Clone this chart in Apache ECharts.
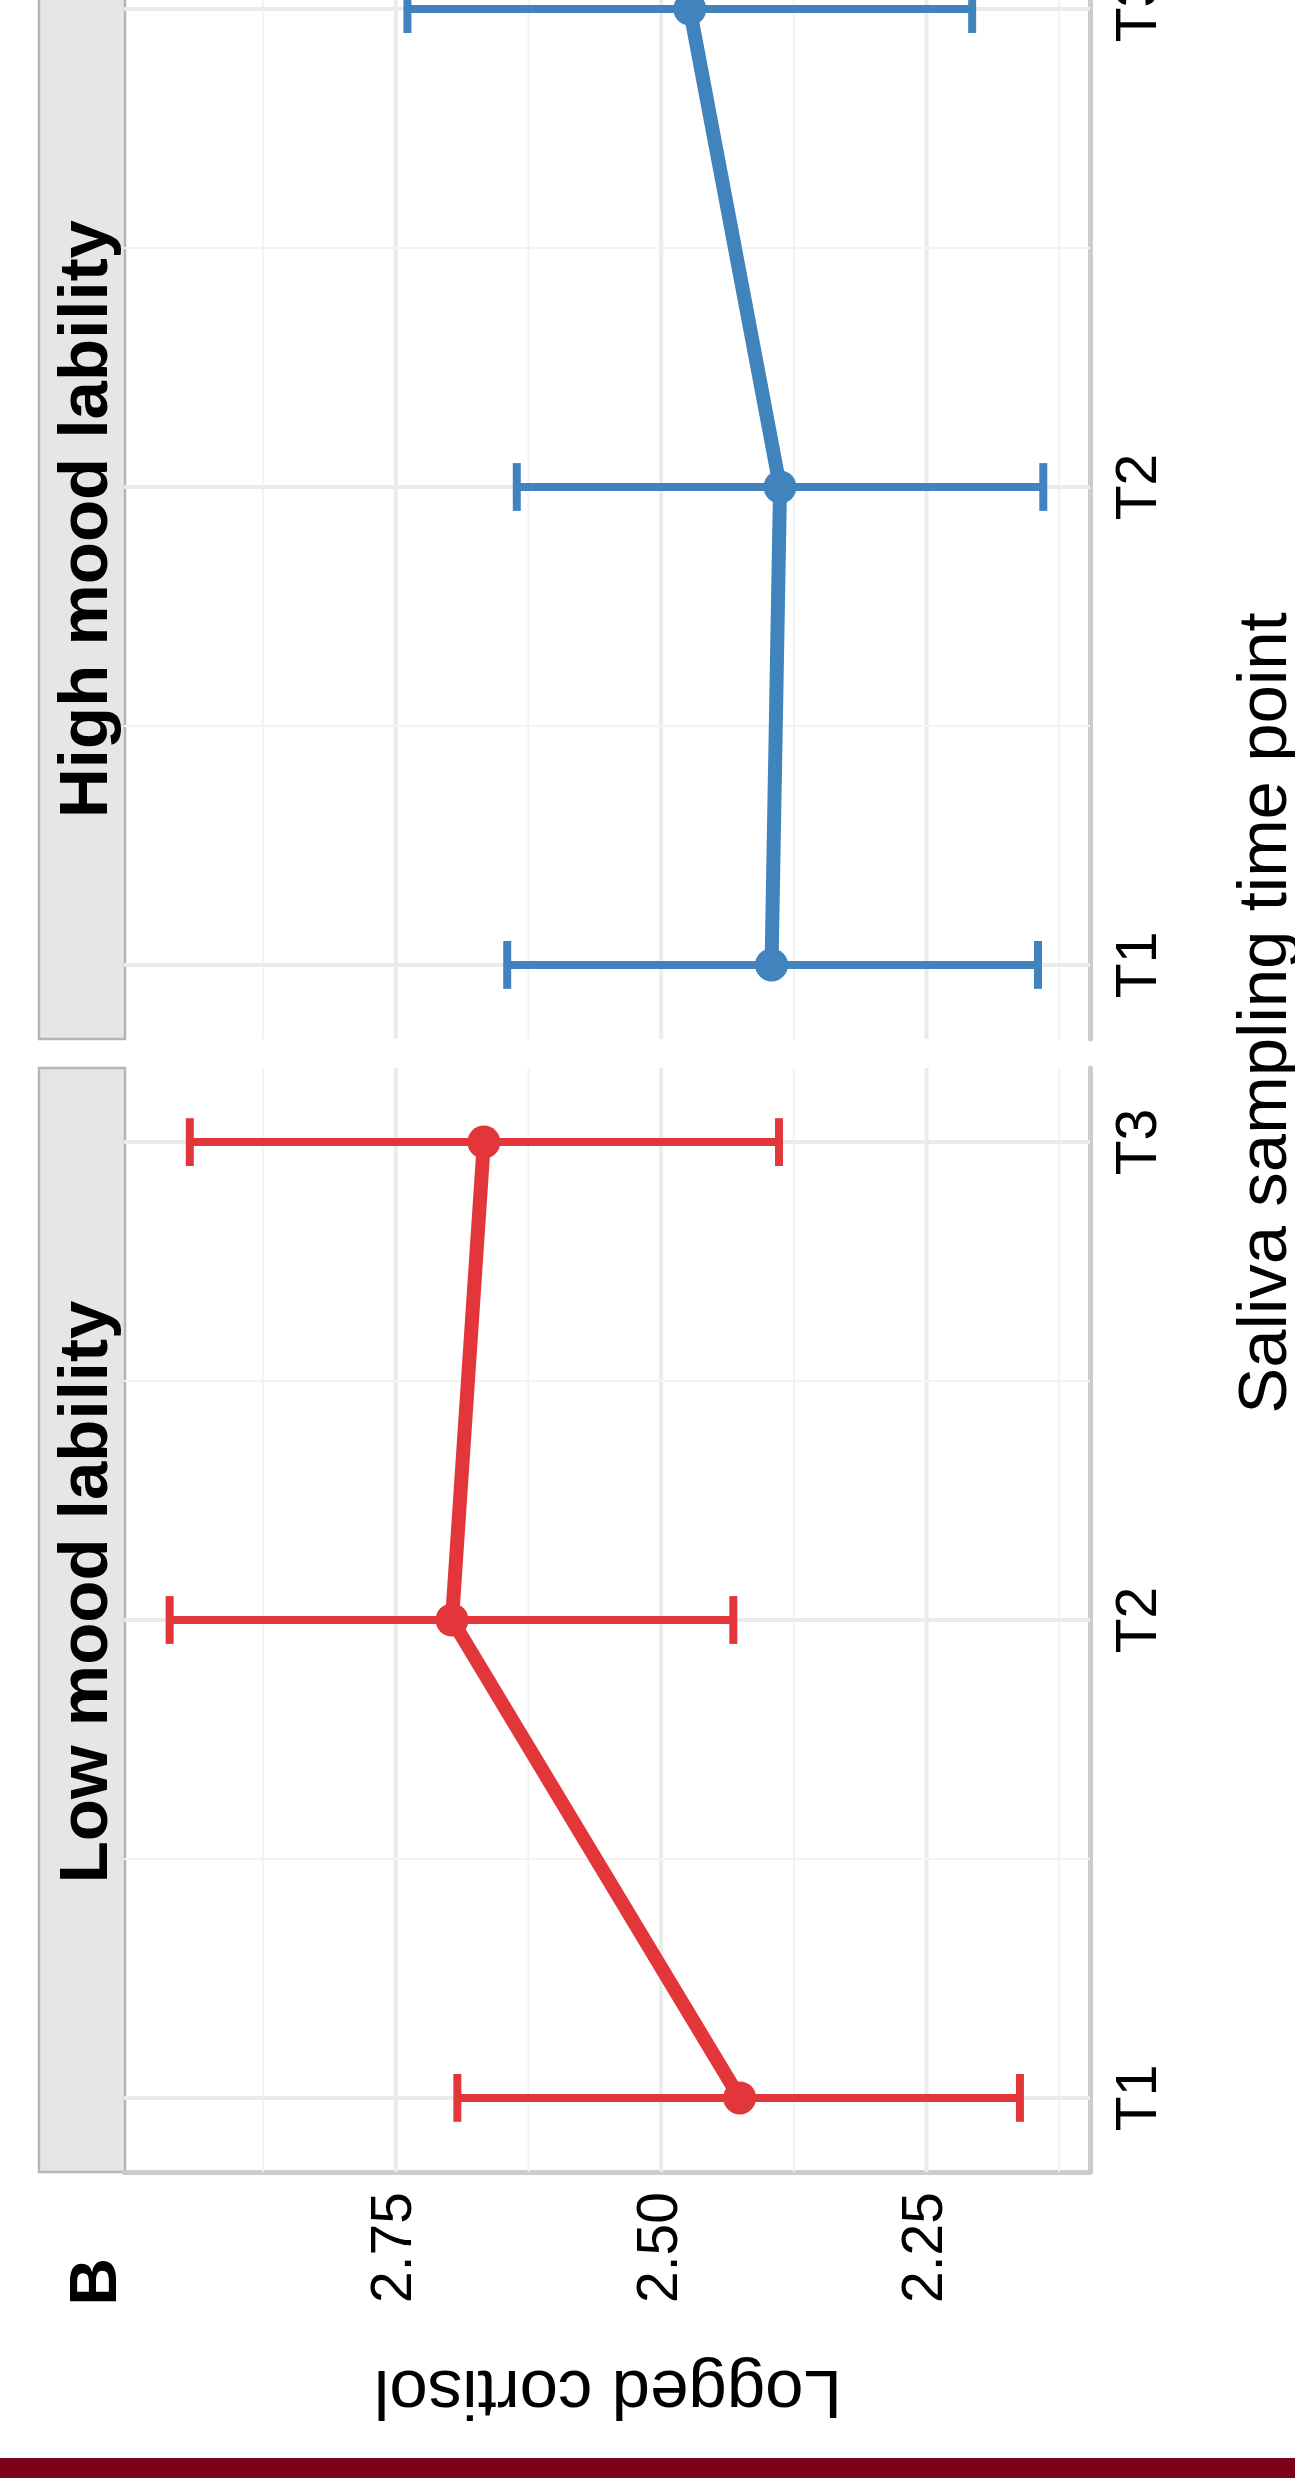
<!DOCTYPE html>
<html>
<head>
<meta charset="utf-8">
<title>Logged cortisol by mood lability</title>
<script src="https://cdn.jsdelivr.net/npm/echarts@6/dist/echarts.min.js"></script>
<style>
  html, body { margin: 0; padding: 0; background: #fff; }
  #chart { width: 1295px; height: 2478px; }
</style>
</head>
<body>
<div id="chart"></div>
<script>
// time points, drawn along the vertical axis (figure is turned on its side)
const timeLabels = ['T1', 'T2', 'T3'];
const timeIndex = [1, 2, 3];

// low mood lability
const lowMean = [2.426, 2.697, 2.667];
const lowLower = [2.162, 2.432, 2.389];
const lowUpper = [2.692, 2.963, 2.944];

// high mood lability
const highMean = [2.396, 2.388, 2.473];
const highLower = [2.145, 2.140, 2.207];
const highUpper = [2.645, 2.636, 2.739];

// cortisol axis ticks
const cortisolTicks = [2.25, 2.5, 2.75];
const cortisolMinor = [2.125, 2.375, 2.625, 2.875];
const timeMinor = [1.5, 2.5];

const FONT = 'Liberation Sans, Arial, sans-serif';
const RED = '#e3363a';
const BLUE = '#4083bd';

// two facet panels, stacked (high on top, low below)
const panels = [
  { name: 'High mood lability', top: -65, mean: highMean, lower: highLower, upper: highUpper, color: BLUE },
  { name: 'Low mood lability', top: 1068, mean: lowMean, lower: lowLower, upper: lowUpper, color: RED }
];
const PANEL_LEFT = 124;
const PANEL_W = 966;
const PANEL_H = 1104;

const chart = echarts.init(document.getElementById('chart'), null, { renderer: 'canvas' });

function gridLineSeries(idx) {
  const items = [];
  cortisolTicks.forEach(v => items.push([v, 0, 1]));
  cortisolMinor.forEach(v => items.push([v, 0, 0]));
  timeIndex.forEach(v => items.push([v, 1, 1]));
  timeMinor.forEach(v => items.push([v, 1, 0]));
  return {
    type: 'custom',
    xAxisIndex: idx,
    yAxisIndex: idx,
    silent: true,
    z: 1,
    data: items,
    renderItem: (params, api) => {
      const cs = params.coordSys;
      const v = api.value(0);
      const major = api.value(2) === 1;
      const style = major
        ? { stroke: '#ebebeb', lineWidth: 4 }
        : { stroke: '#f3f3f3', lineWidth: 2 };
      let shape;
      if (api.value(1) === 0) {
        const x = api.coord([v, 2])[0];
        shape = { x1: x, y1: cs.y, x2: x, y2: cs.y + cs.height };
      } else {
        const y = api.coord([2.5, v])[1];
        shape = { x1: cs.x, y1: y, x2: cs.x + cs.width, y2: y };
      }
      return { type: 'line', shape: shape, style: style };
    }
  };
}

function errorBarSeries(idx, p) {
  return {
    type: 'custom',
    xAxisIndex: idx,
    yAxisIndex: idx,
    silent: true,
    z: 3,
    data: timeIndex.map((t, i) => [p.lower[i], p.upper[i], t]),
    encode: { x: [0, 1], y: 2 },
    renderItem: (params, api) => {
      const t = api.value(2);
      const a = api.coord([api.value(0), t]);
      const b = api.coord([api.value(1), t]);
      const half = api.size([0, 0.1])[1] / 2;
      const style = { stroke: p.color, lineWidth: 8 };
      return {
        type: 'group',
        children: [
          { type: 'line', shape: { x1: a[0], y1: a[1], x2: b[0], y2: b[1] }, style: style },
          { type: 'line', shape: { x1: a[0], y1: a[1] - half, x2: a[0], y2: a[1] + half }, style: style },
          { type: 'line', shape: { x1: b[0], y1: b[1] - half, x2: b[0], y2: b[1] + half }, style: style }
        ]
      };
    }
  };
}

function meanSeries(idx, p) {
  return {
    type: 'line',
    xAxisIndex: idx,
    yAxisIndex: idx,
    z: 4,
    data: timeIndex.map((t, i) => [p.mean[i], t]),
    symbol: 'circle',
    symbolSize: 33,
    lineStyle: { color: p.color, width: 14 },
    itemStyle: { color: p.color },
    emphasis: { disabled: true }
  };
}

function rotatedText(text, x, y, rotation, size, bold) {
  return {
    type: 'text',
    x: x,
    y: y,
    rotation: rotation,
    silent: true,
    style: {
      text: text,
      fill: '#000',
      font: (bold ? 'bold ' : '') + size + 'px ' + FONT,
      textAlign: 'center',
      align: 'center',
      textVerticalAlign: 'middle',
      verticalAlign: 'middle'
    }
  };
}

const graphics = [];
panels.forEach(p => {
  graphics.push({
    type: 'rect',
    silent: true,
    shape: { x: 39, y: p.top, width: 86, height: PANEL_H },
    style: { fill: '#e5e6e8', stroke: '#b5b5b5', lineWidth: 2.5 }
  });
});
graphics.push(rotatedText('High mood lability', 88, 519, Math.PI / 2, 69, true));
graphics.push(rotatedText('Low mood lability', 88, 1592, Math.PI / 2, 69, true));
graphics.push(rotatedText('Saliva sampling time point', 1267, 1013, Math.PI / 2, 69, false));
graphics.push(rotatedText('Logged cortisol', 608, 2390, Math.PI, 69, false));
graphics.push(rotatedText('B', 98, 2282, Math.PI / 2, 66, true));
graphics.push({
  type: 'rect',
  silent: true,
  shape: { x: 0, y: 2458, width: 1295, height: 20 },
  style: { fill: '#7b0019' }
});

const option = {
  backgroundColor: '#fff',
  animation: false,
  tooltip: { show: false },
  grid: panels.map(p => ({
    left: PANEL_LEFT,
    top: p.top,
    width: PANEL_W,
    height: PANEL_H,
    containLabel: false,
    outerBoundsMode: 'none'
  })),
  xAxis: panels.map((p, i) => ({
    type: 'value',
    gridIndex: i,
    min: 2.096,
    max: 3.006,
    inverse: true,
    position: 'bottom',
    splitLine: { show: false },
    axisTick: { show: false },
    axisLine: { show: i === 1, onZero: false, lineStyle: { color: '#cccccc', width: 5 } },
    axisLabel: {
      show: i === 1,
      customValues: cortisolTicks,
      rotate: 90,
      margin: 20,
      fontSize: 57,
      fontFamily: FONT,
      color: '#000',
      formatter: v => v.toFixed(2)
    }
  })),
  yAxis: panels.map((p, i) => ({
    type: 'value',
    gridIndex: i,
    min: 0.845,
    max: 3.155,
    position: 'right',
    splitLine: { show: false },
    axisTick: { show: false },
    axisLine: { show: true, onZero: false, lineStyle: { color: '#cccccc', width: 5 } },
    axisLabel: {
      customValues: timeIndex,
      rotate: 90,
      margin: 22,
      fontSize: 57,
      fontFamily: FONT,
      color: '#000',
      formatter: v => timeLabels[timeIndex.indexOf(v)]
    }
  })),
  graphic: graphics,
  series: [].concat(
    panels.map((p, i) => gridLineSeries(i)),
    panels.map((p, i) => errorBarSeries(i, p)),
    panels.map((p, i) => meanSeries(i, p))
  )
};

chart.setOption(option);
</script>
</body>
</html>
